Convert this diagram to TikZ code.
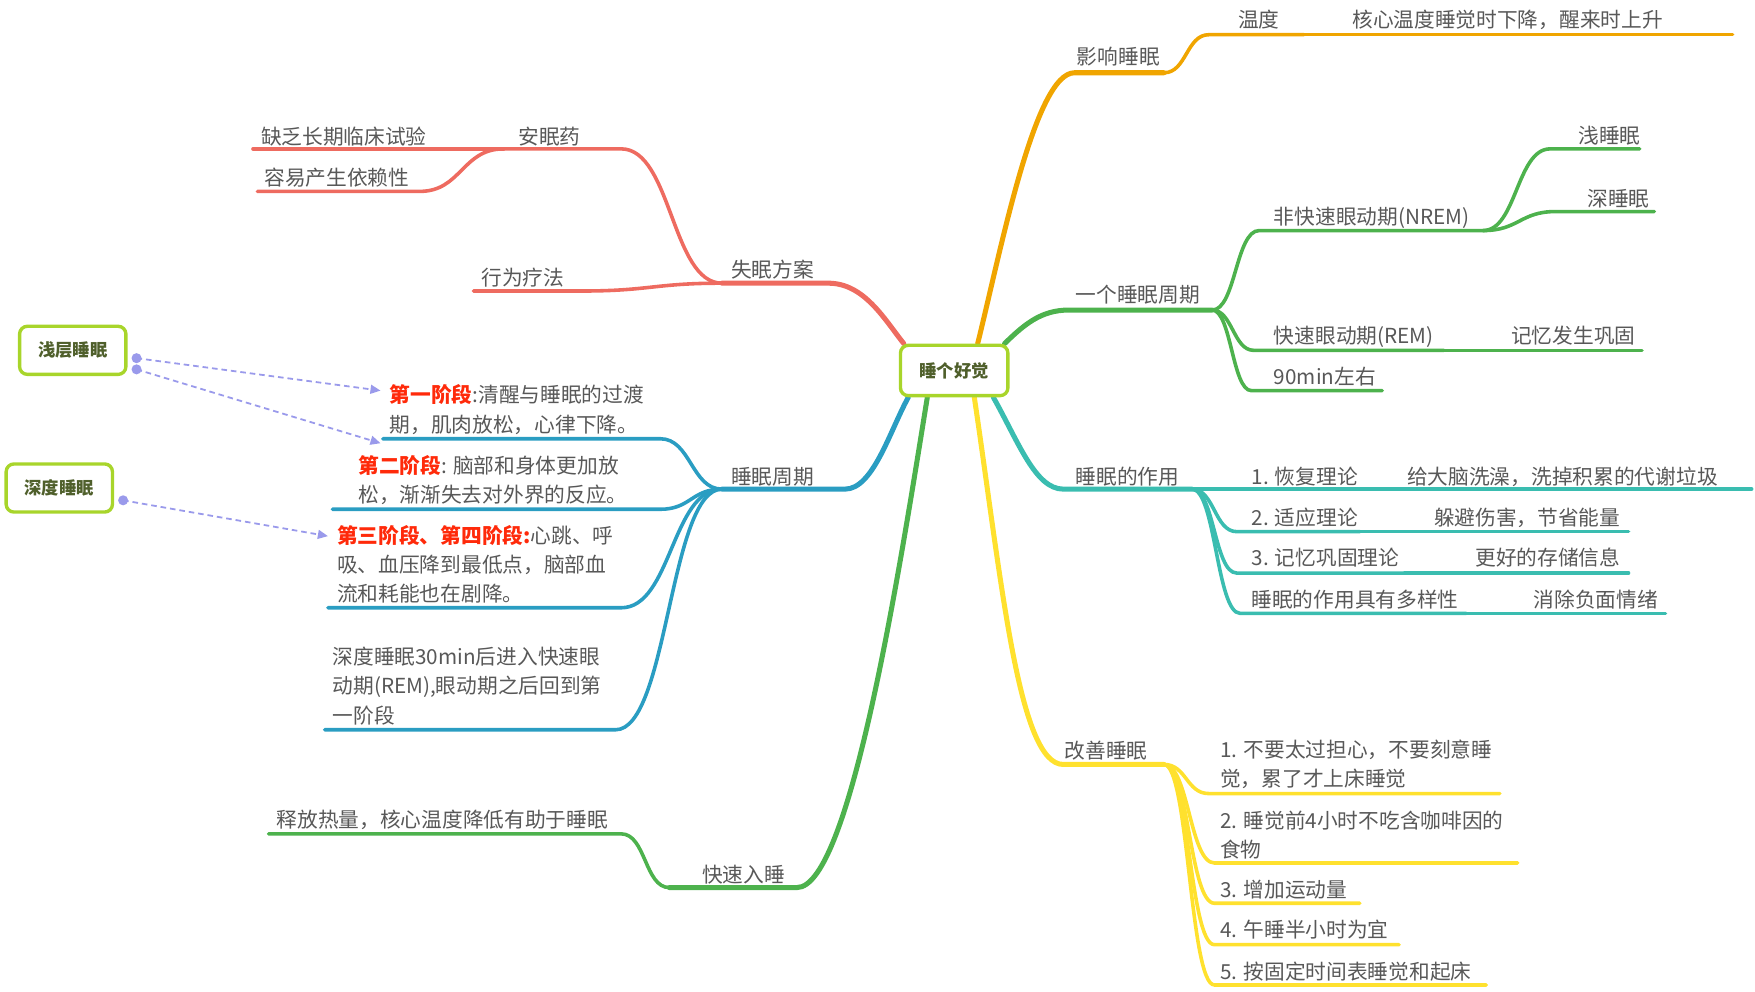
\documentclass[tikz,border=0pt]{standalone}
\usepackage{fontspec}
\setmainfont{Noto Sans CJK SC}
\usetikzlibrary{arrows.meta,backgrounds}
\definecolor{corange}{HTML}{F0A500}
\definecolor{cred}{HTML}{EE6B60}
\definecolor{cgreen}{HTML}{4DB24D}
\definecolor{cteal}{HTML}{3ABDB0}
\definecolor{cyellow}{HTML}{FFE12E}
\definecolor{cblue}{HTML}{2A9DC2}
\definecolor{cbox}{HTML}{A8D52B}
\definecolor{ctext}{HTML}{585858}
\definecolor{cboxtext}{HTML}{4F5F2B}
\definecolor{carrow}{HTML}{9A9AEB}
\definecolor{cstage}{HTML}{FF2A0A}
\tikzset{
  mainline/.style={line width=4.5pt, line cap=round},
  subline/.style={line width=3.2pt, line cap=round},
  lbl/.style={anchor=base west, inner sep=0pt, text=ctext, font=\fontsize{18.5}{26}\selectfont, align=left},
  topic/.style={draw=cbox, line width=3pt, rounded corners=7pt, fill=white, text=cboxtext,
    font=\fontsize{15.5}{20}\selectfont\bfseries, inner sep=0pt},
  link/.style={carrow, line width=1.6pt, dash pattern=on 5pt off 3.5pt, -{Triangle[length=9pt,width=8pt]}},
  stage/.style={text=cstage, font=\fontsize{18.5}{26}\selectfont\bfseries}
}
\begin{document}
\begin{tikzpicture}[x=1pt,y=-1pt]
\useasboundingbox (0,0) rectangle (1568,886);

% topics
\node[topic, minimum width=96pt, minimum height=45pt] (root) at (852.5,331) {睡个好觉};
\node[topic, minimum width=95pt, minimum height=43pt] (shallow) at (65,313) {浅层睡眠};
\node[topic, minimum width=95pt, minimum height=43pt] (deep) at (53,436) {深度睡眠};

% coordinates: orange
\coordinate (oB) at (1040,65);
\coordinate (oC) at (1080,31);
\coordinate (oT) at (1165,31);
\coordinate (oD) at (1548,31);
% red
\coordinate (rA) at (645,253);
\coordinate (r1) at (555,133);
\coordinate (r1L) at (450,133);
\coordinate (r11L) at (226,133);
\coordinate (r12) at (375,171);
\coordinate (r12L) at (230,171);
\coordinate (r2) at (520,260);
\coordinate (r2L) at (423,260);
% green top
\coordinate (gB) at (1083,277);
\coordinate (gN) at (1125,206);
\coordinate (gNR) at (1325,206);
\coordinate (gS) at (1385,133);
\coordinate (gSR) at (1465,133);
\coordinate (gD) at (1390,189);
\coordinate (gDR) at (1478,189);
\coordinate (gR) at (1120,313);
\coordinate (gRR) at (1290,313);
\coordinate (gRM) at (1467,313);
\coordinate (g9) at (1118,349);
\coordinate (g9R) at (1235,349);
% teal
\coordinate (tB) at (1065,437);
\coordinate (t1R) at (1215,437);
\coordinate (t1C) at (1565,437);
\coordinate (t2) at (1105,475);
\coordinate (t2R) at (1215,475);
\coordinate (t2C) at (1455,475);
\coordinate (t3) at (1105,512);
\coordinate (t3R) at (1255,512);
\coordinate (t3C) at (1455,512);
\coordinate (t4) at (1108,548);
\coordinate (t4R) at (1310,548);
\coordinate (t4C) at (1488,548);
% yellow
\coordinate (yB) at (1040,683);
\coordinate (y1) at (1080,709);
\coordinate (y1R) at (1340,709);
\coordinate (y2) at (1085,771);
\coordinate (y2R) at (1356,771);
\coordinate (y3) at (1085,807);
\coordinate (y3R) at (1215,807);
\coordinate (y4) at (1085,844);
\coordinate (y4R) at (1250,844);
\coordinate (y5) at (1085,880);
\coordinate (y5R) at (1328,880);
% blue
\coordinate (bB) at (645,437);
\coordinate (b1) at (590,392);
\coordinate (b1L) at (342,392);
\coordinate (b2) at (590,455);
\coordinate (b2L) at (297,455);
\coordinate (b3) at (555,543);
\coordinate (b3L) at (293,543);
\coordinate (b4) at (550,652);
\coordinate (b4L) at (290,652);
% green bottom
\coordinate (qB) at (598,793);
\coordinate (q1) at (555,745);
\coordinate (q1L) at (240,745);

\begin{scope}[on background layer]
% orange
\draw[mainline,corange] ([xshift=21pt]root.north) .. controls (895,220) and (925,65) .. (960,65) -- (oB);
\draw[subline,corange] (oB) .. controls +(20,0) and +(-20,0) .. (oC) -- (oT);
\draw[subline,corange] (oT) -- (oD);
% red
\draw[mainline,cred] ([xshift=-45pt]root.north) .. controls (790,285) and (772,253) .. (740,253) -- (rA);
\draw[subline,cred] (rA) .. controls +(-45,0) and +(45,0) .. (r1) -- (r1L);
\draw[subline,cred] (r1L) -- (r11L);
\draw[subline,cred] (r1L) .. controls +(-37,0) and +(37,0) .. (r12) -- (r12L);
\draw[subline,cred] (rA) .. controls +(-60,0) and +(60,0) .. (r2) -- (r2L);
% green top
\draw[mainline,cgreen] ([xshift=45pt]root.north) .. controls (915,290) and (930,277) .. (955,277) -- (gB);
\draw[subline,cgreen] (gB) .. controls +(21,0) and +(-21,0) .. (gN) -- (gNR);
\draw[subline,cgreen] (gNR) .. controls +(30,0) and +(-30,0) .. (gS) -- (gSR);
\draw[subline,cgreen] (gNR) .. controls +(32,0) and +(-32,0) .. (gD) -- (gDR);
\draw[subline,cgreen] (gB) .. controls +(18,0) and +(-18,0) .. (gR) -- (gRR);
\draw[subline,cgreen] (gRR) -- (gRM);
\draw[subline,cgreen] (gB) .. controls +(17,0) and +(-17,0) .. (g9) -- (g9R);
% teal
\draw[mainline,cteal] ([xshift=35pt]root.south) .. controls (910,395) and (925,437) .. (950,437) -- (tB);
\draw[subline,cteal] (tB) -- (t1R);
\draw[subline,cteal] (t1R) -- (t1C);
\draw[subline,cteal] (tB) .. controls +(20,0) and +(-20,0) .. (t2) -- (t2R);
\draw[subline,cteal] (t2R) -- (t2C);
\draw[subline,cteal] (tB) .. controls +(20,0) and +(-20,0) .. (t3) -- (t3R);
\draw[subline,cteal] (t3R) -- (t3C);
\draw[subline,cteal] (tB) .. controls +(21,0) and +(-21,0) .. (t4) -- (t4R);
\draw[subline,cteal] (t4R) -- (t4C);
% yellow
\draw[mainline,cyellow] ([xshift=18pt]root.south) .. controls (895,520) and (910,683) .. (950,683) -- (yB);
\draw[subline,cyellow] (yB) .. controls +(20,0) and +(-20,0) .. (y1) -- (y1R);
\draw[subline,cyellow] (yB) .. controls +(22,0) and +(-22,0) .. (y2) -- (y2R);
\draw[subline,cyellow] (yB) .. controls +(22,0) and +(-22,0) .. (y3) -- (y3R);
\draw[subline,cyellow] (yB) .. controls +(22,0) and +(-22,0) .. (y4) -- (y4R);
\draw[subline,cyellow] (yB) .. controls +(22,0) and +(-22,0) .. (y5) -- (y5R);
% blue
\draw[mainline,cblue] ([xshift=-41pt]root.south) .. controls (795,385) and (780,437) .. (755,437) -- (bB);
\draw[subline,cblue] (bB) .. controls +(-27,0) and +(27,0) .. (b1) -- (b1L);
\draw[subline,cblue] (bB) .. controls +(-27,0) and +(27,0) .. (b2) -- (b2L);
\draw[subline,cblue] (bB) .. controls +(-45,0) and +(45,0) .. (b3) -- (b3L);
\draw[subline,cblue] (bB) .. controls +(-47,0) and +(47,0) .. (b4) -- (b4L);
% green bottom
\draw[mainline,cgreen] ([xshift=-24pt]root.south) .. controls (805,500) and (760,793) .. (712,793) -- (qB);
\draw[subline,cgreen] (qB) .. controls +(-22,0) and +(22,0) .. (q1) -- (q1L);
\end{scope}

% labels orange
\node[lbl] (l-ying) at (962,57.5) {影响睡眠};
\node[lbl] (l-wendu) at (1106,25) {温度};
\node[lbl] (l-hexin) at (1208,25) {核心温度睡觉时下降，醒来时上升};
% red
\node[lbl] (l-shimian) at (653,247.5) {失眠方案};
\node[lbl] (l-anmian) at (463,129.5) {安眠药};
\node[lbl] (l-quefa) at (233,129.5) {缺乏长期临床试验};
\node[lbl] (l-rongyi) at (236,165.5) {容易产生依赖性};
\node[lbl] (l-xingwei) at (430,255.5) {行为疗法};
% green top
\node[lbl] (l-yige) at (961,270.5) {一个睡眠周期};
\node[lbl] (l-nrem) at (1138,200.5) {非快速眼动期(NREM)};
\node[lbl] (l-qian) at (1410,128.5) {浅睡眠};
\node[lbl] (l-shen) at (1418,184.5) {深睡眠};
\node[lbl] (l-rem) at (1138,306.5) {快速眼动期(REM)};
\node[lbl] (l-jiyi) at (1350,306.5) {记忆发生巩固};
\node[lbl] (l-90) at (1138,343.5) {90min左右};
% teal
\node[lbl] (l-zuoyong) at (961,432.5) {睡眠的作用};
\node[lbl] (l-t1) at (1118,432.5) {1. 恢复理论};
\node[lbl] (l-t1c) at (1257,432.5) {给大脑洗澡，洗掉积累的代谢垃圾};
\node[lbl] (l-t2) at (1118,469.5) {2. 适应理论};
\node[lbl] (l-t2c) at (1281,469.5) {躲避伤害，节省能量};
\node[lbl] (l-t3) at (1118,505.5) {3. 记忆巩固理论};
\node[lbl] (l-t3c) at (1318,505.5) {更好的存储信息};
\node[lbl] (l-t4) at (1118,542.5) {睡眠的作用具有多样性};
\node[lbl] (l-t4c) at (1370,542.5) {消除负面情绪};
% yellow
\node[lbl] (l-gaishan) at (951,677.5) {改善睡眠};
\node[lbl] (l-y1) at (1090,703) {1. 不要太过担心，不要刻意睡\\觉，累了才上床睡觉};
\node[lbl] (l-y2) at (1090,766) {2. 睡觉前4小时不吃含咖啡因的\\食物};
\node[lbl] (l-y3) at (1090,802) {3. 增加运动量};
\node[lbl] (l-y4) at (1090,838) {4. 午睡半小时为宜};
\node[lbl] (l-y5) at (1090,875) {5. 按固定时间表睡觉和起床};
% blue
\node[lbl] (l-zhouqi) at (653,432.5) {睡眠周期};
\node[lbl] (l-s1) at (348,386) {{\color{cstage}\bfseries 第一阶段}:清醒与睡眠的过渡\\期，肌肉放松，心律下降。};
\node[lbl] (l-s2) at (320,449) {{\color{cstage}\bfseries 第二阶段}: 脑部和身体更加放\\松，渐渐失去对外界的反应。};
\node[lbl] (l-s3) at (301,537.5) {{\color{cstage}\bfseries 第三阶段、第四阶段:}心跳、呼\\吸、血压降到最低点，脑部血\\流和耗能也在剧降。};
\node[lbl] (l-s4) at (297,646) {深度睡眠30min后进入快速眼\\动期(REM),眼动期之后回到第\\一阶段};
% green bottom
\node[lbl] (l-kuaisu) at (627,788.5) {快速入睡};
\node[lbl] (l-shifang) at (247,739.5) {释放热量，核心温度降低有助于睡眠};

% relationship arrows
\coordinate (a1s) at ([xshift=8pt,yshift=-7pt]shallow.east);
\coordinate (a2s) at ([xshift=8pt,yshift=-17pt]shallow.east);
\coordinate (a3s) at ([xshift=8pt,yshift=-11pt]deep.east);
\coordinate (a1e) at (340,349);
\coordinate (a2e) at (340,396);
\coordinate (a3e) at (293,479);
\draw[link] (a1s) -- (a1e);
\draw[link] (a2s) -- (a2e);
\draw[link] (a3s) -- (a3e);
\fill[carrow] (a1s) circle (4.5pt);
\fill[carrow] (a2s) circle (4.5pt);
\fill[carrow] (a3s) circle (4.5pt);
\end{tikzpicture}
\end{document}
